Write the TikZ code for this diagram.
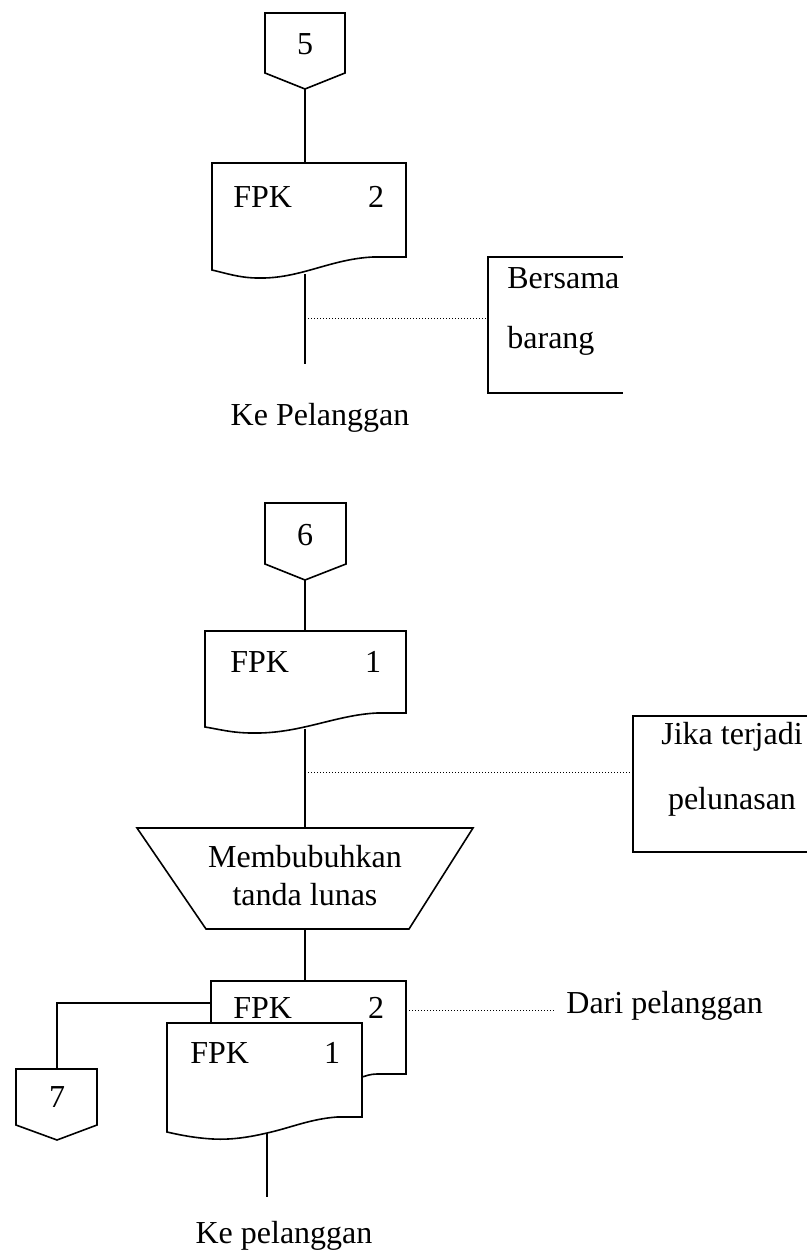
\documentclass[tikz,border=0pt]{standalone}
\usepackage{fontspec}
\setmainfont{Liberation Serif}
\begin{document}
\begin{tikzpicture}[x=0.5pt,y=-0.5pt,
  shp/.style={draw, line width=0.8pt, line join=miter, fill=white},
  ln/.style={draw, line width=0.8pt},
  note/.style={draw, line width=1.4pt},
  dots/.style={draw, dotted, line width=0.5pt, dash pattern=on 0.5pt off 1pt},
  txt/.style={font=\fontsize{16}{19}\selectfont, inner sep=0pt}]
\useasboundingbox (0,0) rectangle (807,1254);

% ---------- connector 5
\draw[shp] (265,13) -- (345,13) -- (345,73) -- (305,89) -- (265,73) -- cycle;
\coordinate (c5) at (305,89);
\node[txt] (n5) at (305,44) {5};

% ---------- document FPK 2 (top)
\draw[shp] (212,163) -- (406,163) -- (406,257) -- (373,257)
  .. controls (330,259) and (300,279) .. (258,278)
  .. controls (240,278) and (225,273) .. (212,270) -- cycle;
\coordinate (d1top) at (305,163);
\coordinate (d1bot) at (305,274);
\node[txt, anchor=west] (d1a) at (233,197) {FPK};
\node[txt] (d1b) at (376,197) {2};
\draw[ln] (c5) -- (d1top);
\coordinate (d1end) at (305,364);
\draw[ln] (d1bot) -- (d1end);
\coordinate (dt1) at (305,318);

% note Bersama barang
\draw[note] (623,257) -- (488,257) -- (488,393) -- (623,393);
\coordinate (nb) at (488,318);
\node[txt, anchor=west] (nb1) at (507,278) {Bersama};
\node[txt, anchor=west] (nb2) at (507,341) {barang};
\draw[dots] (dt1) -- (nb);

\node[txt] (kp1) at (320,418) {Ke Pelanggan};

% ---------- connector 6
\draw[shp] (265,503) -- (346,503) -- (346,564) -- (305,580) -- (265,564) -- cycle;
\coordinate (c6) at (305,580);
\node[txt] (n6) at (305,535) {6};

% ---------- document FPK 1 (middle)
\draw[shp] (205,631) -- (406,631) -- (406,713) -- (377,713)
  .. controls (335,715) and (300,734) .. (252,733)
  .. controls (232,733) and (218,729) .. (205,727) -- cycle;
\coordinate (d2top) at (305,631);
\coordinate (d2bot) at (305,729);
\node[txt, anchor=west] (d2a) at (230,662) {FPK};
\node[txt] (d2b) at (373,662) {1};
\draw[ln] (c6) -- (d2top);

% trapezoid
\draw[shp] (137,828) -- (473,828) -- (409,929) -- (206,929) -- cycle;
\coordinate (ttop) at (305,828);
\coordinate (tbot) at (305,929);
\node[txt, align=center] (tr1) at (305,857) {Membubuhkan};
\node[txt, align=center] (tr2) at (305,895) {tanda lunas};
\draw[ln] (d2bot) -- (ttop);
\coordinate (dt2) at (305,772);

% note Jika terjadi
\draw[note] (807,716) -- (633,716) -- (633,852) -- (807,852);
\coordinate (nj) at (633,772);
\node[txt] (nj1) at (732,737) {Jika terjadi};
\node[txt] (nj2) at (732,802) {pelunasan};
\draw[dots] (dt2) -- (nj);

% ---------- back document FPK 2
\draw[shp] (211,981) -- (406,981) -- (406,1074) -- (377,1074)
  .. controls (370,1074) and (366,1076) .. (362,1077) -- (362,1074) -- (211,1074) -- cycle;
\coordinate (d3top) at (305,981);
\coordinate (d3left) at (211,1003);
\coordinate (d3right) at (406,1010);
\node[txt, anchor=west] (d3a) at (233,1008) {FPK};
\node[txt] (d3b) at (376,1008) {2};
\draw[ln] (tbot) -- (d3top);

% front document FPK 1
\draw[shp] (167,1023) -- (362,1023) -- (362,1117) -- (337,1117)
  .. controls (310,1119) and (290,1128) .. (267,1133)
  .. controls (250,1137) and (232,1140) .. (213,1139)
  .. controls (195,1138) and (180,1135) .. (167,1132) -- cycle;
\coordinate (d4bot) at (267,1133);
\node[txt, anchor=west] (d4a) at (190,1053) {FPK};
\node[txt] (d4b) at (332,1053) {1};
\coordinate (d4end) at (267,1197);
\draw[ln] (d4bot) -- (d4end);
\node[txt] (kp2) at (284,1236) {Ke pelanggan};

% connector 7
\draw[shp] (16,1069) -- (97,1069) -- (97,1125) -- (57,1140) -- (16,1125) -- cycle;
\coordinate (c7) at (57,1069);
\node[txt] (n7) at (57,1097) {7};
\draw[ln] (d3left) -- (57,1003) -- (c7);

% Dari pelanggan
\node[txt, anchor=west] (dp) at (566,1006) {Dari pelanggan};
\coordinate (dpl) at (556,1010);
\draw[dots] (d3right) -- (dpl);
\end{tikzpicture}
\end{document}
